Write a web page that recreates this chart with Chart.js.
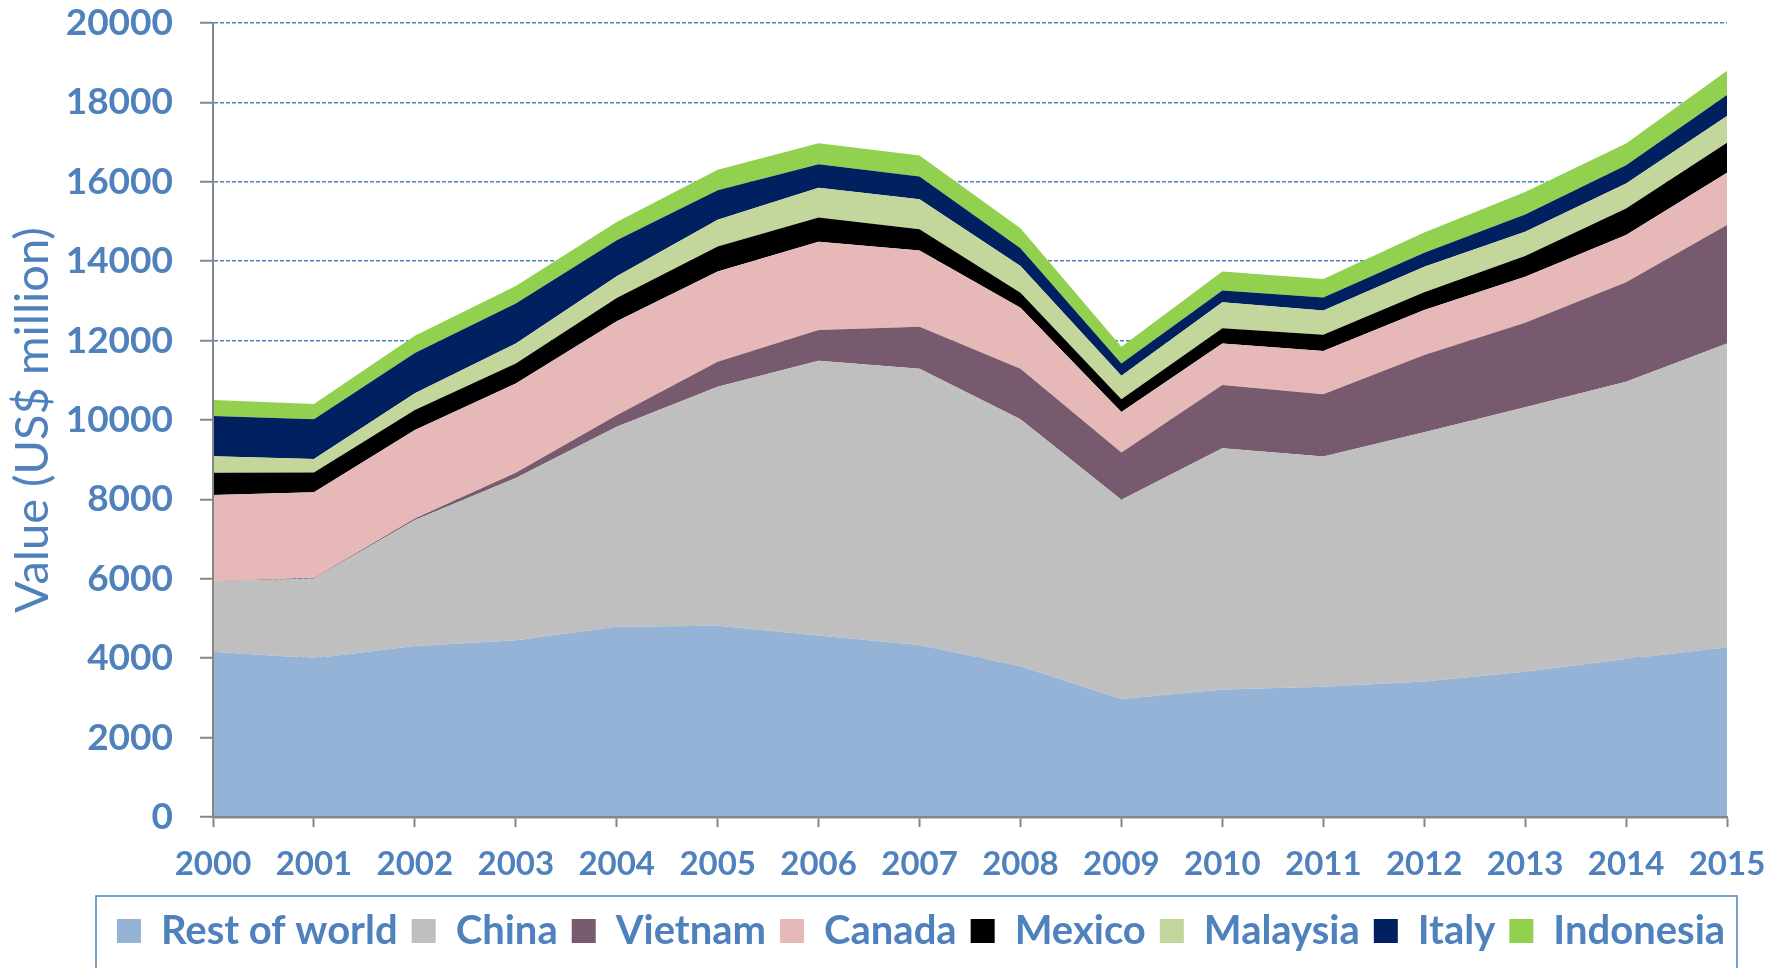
<!DOCTYPE html>
<html>
<head>
<meta charset="utf-8">
<script src="https://cdn.jsdelivr.net/npm/chart.js@4"></script>
<style>
  html, body { margin: 0; padding: 0; background: #fff; }
  #wrap { width: 1782px; height: 968px; }
</style>
</head>
<body>
<div id="wrap"><canvas id="chart" width="1782" height="968"></canvas></div>
<script>
// DATOS (US$ million)
const years = ["2000","2001","2002","2003","2004","2005","2006","2007","2008","2009","2010","2011","2012","2013","2014","2015"];
const restOfWorld = [4160, 4000, 4310, 4450, 4790, 4820, 4570, 4330, 3800, 2970, 3210, 3280, 3410, 3660, 3980, 4275];
const china       = [1770, 2010, 3170, 4090, 5040, 6020, 6920, 6960, 6220, 5020, 6080, 5800, 6280, 6660, 6985, 7655];
const vietnam     = [10, 10, 40, 130, 290, 630, 780, 1060, 1270, 1190, 1590, 1570, 1950, 2130, 2505, 2980];
const canada      = [2170, 2160, 2230, 2250, 2370, 2270, 2220, 1920, 1540, 1020, 1050, 1090, 1130, 1160, 1190, 1320];
const mexico      = [560, 495, 505, 505, 585, 630, 610, 535, 375, 325, 380, 405, 445, 520, 670, 755];
const malaysia    = [420, 345, 420, 505, 545, 675, 750, 755, 675, 590, 655, 615, 645, 610, 630, 670];
const italy       = [1010, 1000, 1010, 1005, 905, 740, 590, 575, 445, 310, 295, 325, 355, 435, 460, 530];
const indonesia   = [405, 385, 435, 440, 460, 520, 530, 525, 505, 420, 480, 465, 505, 570, 545, 615];

const seriesNames = ["Rest of world","China","Vietnam","Canada","Mexico","Malaysia","Italy","Indonesia"];
const seriesData = [restOfWorld, china, vietnam, canada, mexico, malaysia, italy, indonesia];
const seriesColors = ["#95B3D7","#BFBFBF","#775A6E","#E6B9B8","#000000","#C3D69B","#002060","#92D050"];

const BLUE = "#4F81BD";
const GRAY = "#868686";

// borde de la leyenda
const legendBorder = {
    id: "legendBorder",
    afterDraw(chart) {
        const lg = chart.legend;
        if (!lg) return;
        const ctx = chart.ctx;
        ctx.save();
        ctx.strokeStyle = BLUE;
        ctx.lineWidth = 1.5;
        ctx.strokeRect(96, lg.top - 1, 1737 - 96, 120);
        ctx.restore();
    }
};

const datasets = seriesNames.map((name, i) => ({
    label: name,
    data: seriesData[i],
    backgroundColor: seriesColors[i],
    borderColor: seriesColors[i],
    borderWidth: 0,
    pointRadius: 0,
    pointHoverRadius: 0,
    tension: 0,
    fill: i === 0 ? "origin" : "-1"
}));

new Chart(document.getElementById("chart").getContext("2d"), {
    type: "line",
    data: { labels: years, datasets },
    plugins: [legendBorder],
    options: {
        responsive: false,
        animation: false,
        events: [],
        layout: { padding: { left: 60, right: 0, top: 23, bottom: 7 } },
        plugins: {
            tooltip: { enabled: false },
            legend: {
                position: "bottom",
                align: "center",
                labels: {
                    boxWidth: 24,
                    boxHeight: 24,
                    padding: 14,
                    color: BLUE,
                    font: { family: "Lato", size: 40, weight: "bold" }
                }
            }
        },
        scales: {
            x: {
                afterFit: (s) => { s.height = 80; s.paddingLeft = 0; s.paddingRight = 55; },
                grid: { display: true, drawOnChartArea: false, tickColor: GRAY, tickLength: 10, tickWidth: 2 },
                border: { display: true, color: GRAY, width: 2.5, z: 1 },
                ticks: { color: BLUE, padding: 18, maxRotation: 0, autoSkip: false,
                         font: { family: "Lato", size: 33, weight: "bold" } }
            },
            y: {
                stacked: true,
                min: 0,
                max: 20000,
                afterFit: (s) => { s.width = 153; s.paddingTop = 0; s.paddingBottom = 0; },
                grid: { color: BLUE, lineWidth: 1.5, tickColor: GRAY, tickLength: 13, tickWidth: 2 },
                border: { display: true, color: GRAY, width: 2, dash: [4, 2], z: 1 },
                ticks: { stepSize: 2000, color: BLUE, padding: 27,
                         callback: (v) => String(v),
                         font: { family: "Lato", size: 37, weight: "bold" } },
                title: {
                    display: true,
                    text: "Value (US$ million)",
                    color: BLUE,
                    padding: { top: -55, bottom: 0 },
                    font: { family: "Lato", size: 47, weight: "normal" }
                }
            }
        }
    }
});
</script>
</body>
</html>
